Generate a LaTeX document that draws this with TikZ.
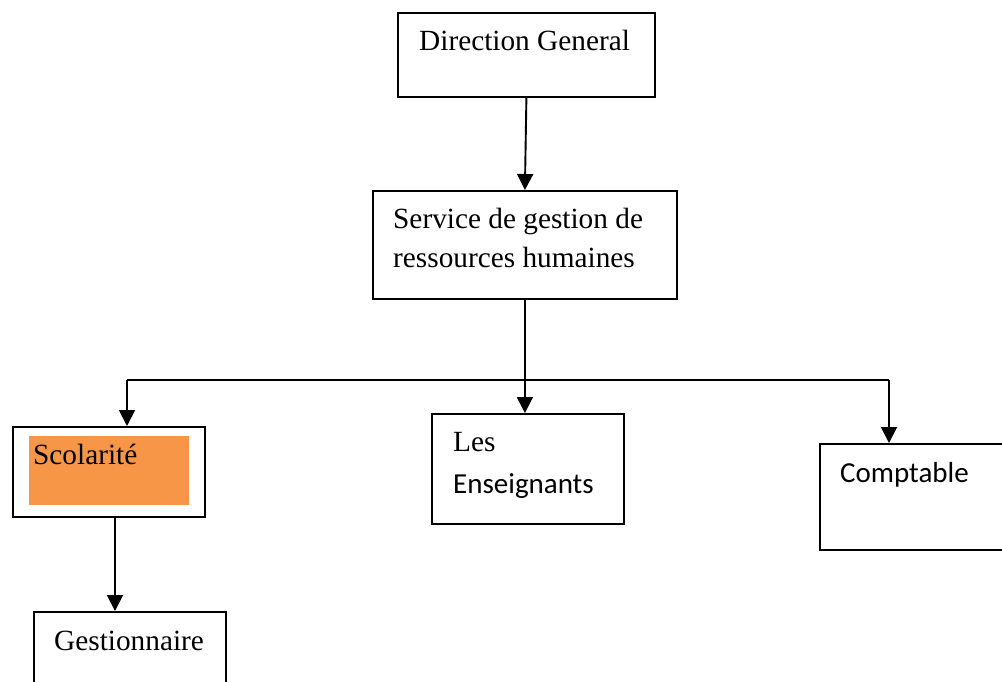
\documentclass[tikz,border=0pt]{standalone}
\usepackage{fontspec}
\setmainfont{Liberation Serif}
\newfontfamily\calibri{Carlito}
\usetikzlibrary{arrows.meta}
\definecolor{accentorange}{HTML}{F79646}
\begin{document}
\begin{tikzpicture}[x=1pt,y=-1pt,
  box/.style={draw=black,line width=1.8pt,fill=white,rectangle,inner sep=0pt,anchor=north west},
  txt/.style={anchor=base west,inner sep=0pt,font=\fontsize{29.3}{39}\selectfont},
  link/.style={line width=1.9pt,-{Triangle[width=16pt,length=16pt]}},
  wire/.style={line width=1.9pt}]
\useasboundingbox (0,0) rectangle (1002,681);
\begin{scope}
\clip (0,0) rectangle (1002,681);
% boxes
\node[box,minimum width=257pt,minimum height=84pt] (dir) at (397,12) {};
\node[box,minimum width=304pt,minimum height=108pt] (svc) at (372,190) {};
\node[box,minimum width=192pt,minimum height=90pt] (scol) at (12,426) {};
\node[box,minimum width=192pt,minimum height=110pt] (ens) at (431,413) {};
\node[box,minimum width=200pt,minimum height=106pt] (compt) at (819,443) {};
\node[box,minimum width=192pt,minimum height=90pt] (gest) at (33,611) {};
% highlighted text area
\fill[accentorange] (29,436) rectangle (189,505);
% labels
\node[txt] (tdir) at (419,50) {Direction General};
\node[txt] (tsvc1) at (393,228) {Service de gestion de};
\node[txt] (tsvc2) at (393,267) {ressources humaines};
\node[txt] (tscol) at (33,464) {Scolarité};
\node[txt] (tgest) at (54,650) {Gestionnaire};
\node[txt] (tles) at (453,451) {Les};
\node[txt,font=\calibri\fontsize{29}{39}\selectfont] (tens) at (453,493) {Enseignants};
\node[txt,font=\calibri\fontsize{29}{39}\selectfont] (tcompt) at (840,482) {Comptable};
% connectors
\coordinate (busL) at (127,380);
\coordinate (busR) at (889,380);
\coordinate (drop) at (115,516);
\draw[link] (dir.south) -- (svc.north);
\draw[link] (svc.south) -- (svc.south |- ens.north);
\draw[wire] (busL) -- (busR);
\draw[link] (busL) -- (busL |- scol.north);
\draw[link] (busR) -- (busR |- compt.north);
\draw[link] (drop) -- (drop |- gest.north);
\end{scope}
\end{tikzpicture}
\end{document}
